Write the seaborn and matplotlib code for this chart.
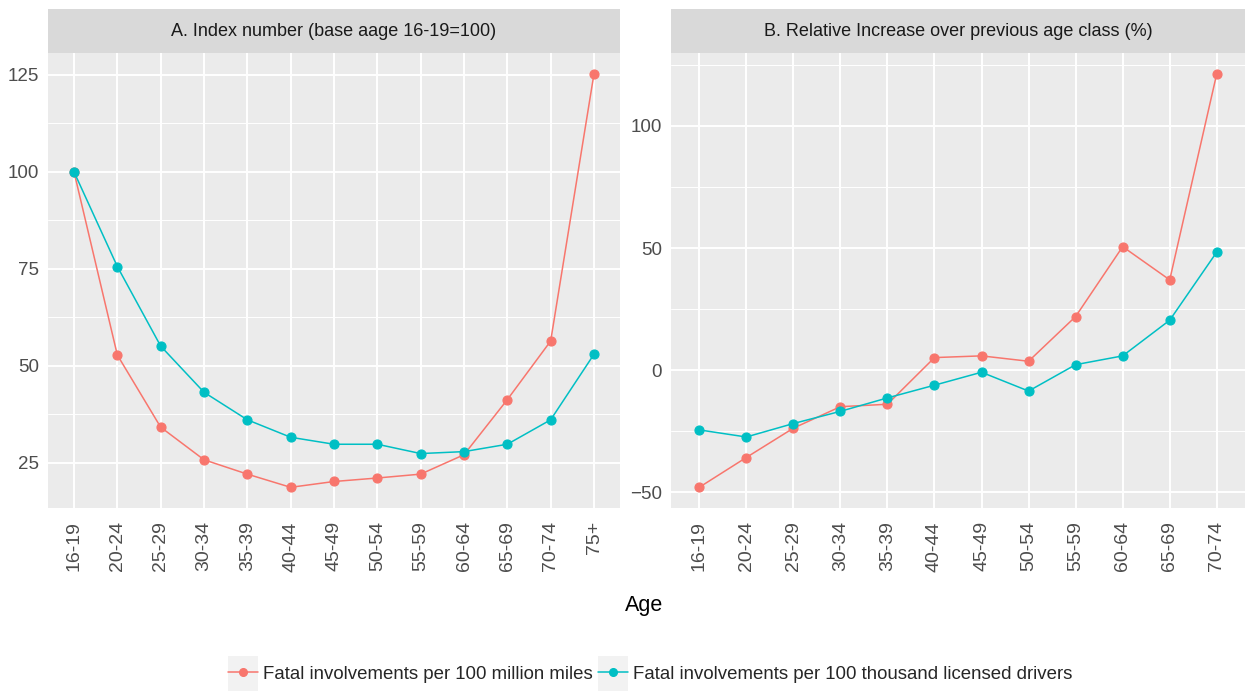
import numpy as np
import pandas as pd
import matplotlib
matplotlib.use("Agg")
import matplotlib.pyplot as plt
from matplotlib.lines import Line2D
from matplotlib.patches import Rectangle
from matplotlib.legend_handler import HandlerLine2D
from matplotlib.ticker import MultipleLocator
import seaborn as sns

# ---- data -------------------------------------------------------------
ages_a = ['16-19', '20-24', '25-29', '30-34', '35-39', '40-44', '45-49',
          '50-54', '55-59', '60-64', '65-69', '70-74', '75+']
index_miles = [100, 52.8, 34.2, 25.8, 22.1, 18.7, 20.2, 21.1, 22.1, 27.1, 41.3, 56.4, 125.3]
index_drivers = [100, 75.6, 55.1, 43.2, 36.1, 31.6, 29.8, 29.8, 27.4, 27.9, 29.8, 36.1, 53.0]

ages_b = ['16-19', '20-24', '25-29', '30-34', '35-39', '40-44', '45-49',
          '50-54', '55-59', '60-64', '65-69', '70-74']
rel_miles = [-47.9, -35.7, -23.7, -14.9, -13.9, 5.2, 5.9, 3.7, 22.0, 50.6, 37.0, 121.4]
rel_drivers = [-24.4, -27.3, -21.8, -16.8, -11.3, -6.1, -0.8, -8.5, 2.3, 5.9, 20.5, 48.4]

series = ['Fatal involvements per 100 million miles',
          'Fatal involvements per 100 thousand licensed drivers']
colors = ['#F8766D', '#00BFC4']

titles = ['A. Index number (base aage 16-19=100)',
          'B. Relative Increase over previous age class (%)']


def long_frame(ages, a, b):
    return pd.DataFrame({
        'age': ages * 2,
        'value': list(a) + list(b),
        'measure': [series[0]] * len(ages) + [series[1]] * len(ages),
    })


df_a = long_frame(ages_a, index_miles, index_drivers)
df_b = long_frame(ages_b, rel_miles, rel_drivers)

# ---- style ------------------------------------------------------------
sns.set_theme(style='darkgrid')
plt.rcParams['font.family'] = ['Liberation Sans', 'DejaVu Sans']

W, H = 1249, 691
fig = plt.figure(figsize=(W / 100, H / 100), dpi=100)
fig.patch.set_facecolor('white')


def px_axes(x0, y0, x1, y1):
    return fig.add_axes([x0 / W, 1 - y1 / H, (x1 - x0) / W, (y1 - y0) / H])


panels = [
    (df_a, ages_a, (48, 620), 25, 12.5),
    (df_b, ages_b, (671, 1245), 50, 25),
]
strip_top, panel_top, panel_bottom = 9, 53, 508

for (df, ages, (x0, x1), major, minor), title in zip(panels, titles):
    ax = px_axes(x0, panel_top, x1, panel_bottom)
    ax.set_facecolor('#EBEBEB')
    sns.pointplot(data=df, x='age', y='value', hue='measure', order=ages,
                  hue_order=series, palette=colors, markers='o', linestyles='-',
                  errorbar=None, legend=False, ax=ax,
                  markersize=6.5, linewidth=1.1)
    n = len(ages)
    ax.set_xlim(-0.6, n - 1 + 0.6)
    lo, hi = df['value'].min(), df['value'].max()
    rng = hi - lo
    ax.set_ylim(lo - 0.05 * rng, hi + 0.05 * rng)
    ax.yaxis.set_major_locator(MultipleLocator(major))
    ax.yaxis.set_minor_locator(MultipleLocator(minor))
    ax.grid(which='major', color='white', linewidth=1.4)
    ax.grid(which='minor', axis='y', color='white', linewidth=0.7)
    ax.set_axisbelow(True)
    for s in ax.spines.values():
        s.set_visible(False)
    ax.set_xlabel('')
    ax.set_ylabel('')
    ax.tick_params(axis='both', which='major', length=4.5, width=1.0,
                   color='#333333', labelcolor='#4D4D4D')
    ax.tick_params(axis='y', which='minor', length=0)
    ax.tick_params(axis='y', labelsize=13.5, pad=2)
    ax.tick_params(axis='x', labelsize=14, pad=5)
    for lab in ax.get_xticklabels():
        lab.set_rotation(90)
        lab.set_va('top')
        lab.set_ha('center')

    # facet strip
    sax = px_axes(x0, strip_top, x1, panel_top)
    sax.set_facecolor('#D9D9D9')
    sax.set_xticks([])
    sax.set_yticks([])
    for s in sax.spines.values():
        s.set_visible(False)
    sax.text(0.5, 0.5, title, ha='center', va='center', fontsize=13,
             color='#1A1A1A', transform=sax.transAxes)

fig.text(644 / W, 1 - 606 / H, 'Age', ha='center', va='center',
         fontsize=15.5, color='black')


class KeyHandler(HandlerLine2D):
    """Legend key with a light grey background tile centred on the line."""

    def create_artists(self, legend, orig_handle, xdescent, ydescent,
                       width, height, fontsize, trans):
        yc = (height - ydescent) / 2
        tile = 2.0 * fontsize
        bg = Rectangle((-xdescent, yc - tile / 2 - 0.15 * fontsize), width, tile,
                       facecolor='#F2F2F2', edgecolor='none', transform=trans)
        arts = super().create_artists(legend, orig_handle, xdescent, ydescent,
                                      width, height, fontsize, trans)
        return [bg] + list(arts)


handles = [Line2D([], [], color=c, marker='o', markersize=5.5, linewidth=1.1)
           for c in colors]
fig.legend(handles, series, loc='center', bbox_to_anchor=(650 / W, 1 - 674 / H),
           ncol=2, frameon=False, fontsize=13.4, handlelength=1.65,
           handletextpad=0.25, columnspacing=0.25,
           borderpad=0, handler_map={Line2D: KeyHandler(numpoints=1)})

fig.savefig('out.png', dpi=100, facecolor='white')
